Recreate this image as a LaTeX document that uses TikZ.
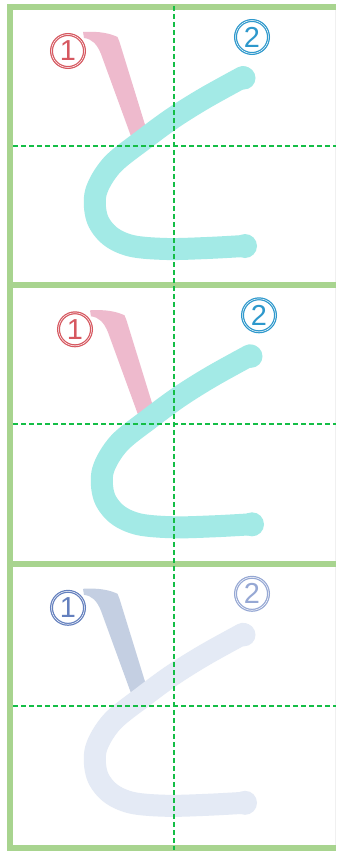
\documentclass[tikz,border=0pt]{standalone}
\usepackage{fontspec}
\setmainfont{Liberation Sans}
\definecolor{frameG}{RGB}{168,212,143}
\definecolor{gridG}{RGB}{20,190,70}
\definecolor{pinkS}{RGB}{238,186,205}
\definecolor{cyanS}{RGB}{163,234,230}
\definecolor{redN}{RGB}{214,88,96}
\definecolor{blueN}{RGB}{45,152,204}
\definecolor{grayS}{RGB}{196,207,226}
\definecolor{paleS}{RGB}{228,234,245}
\definecolor{grayNa}{RGB}{100,128,190}
\definecolor{grayNb}{RGB}{150,168,212}
\tikzset{
  framebar/.style={frameG, line width=6bp},
  gridline/.style={gridG, line width=1.5bp, dash pattern=on 5bp off 3bp},
  numlbl/.style={circle, line width=3bp, minimum size=33bp, inner sep=0pt,
     font=\fontsize{29}{29}\selectfont},
  strokeB/.style={line width=22bp, line cap=round, line join=round},
}
\newcommand{\kanapanel}[7]{%
\begin{scope}[shift={(#2,#3)}]
  \fill[#4] (83,32) .. controls (100,31) and (110,33.5) .. (117.5,37)
     -- (119.5,42) -- (146,128) -- (132,139) -- (101,54)
     .. controls (97,44) and (92,39) .. (84,38) -- cycle;
  \draw[#5, strokeB] plot[smooth, tension=0.55] coordinates {
     (243,77) (205,98) (173,118) (143,140) (112,165) (96,192) (97,218)
     (110,236) (132,246) (167,249) (207,248) (244,246)};
  \fill[#5] (244,78) circle (11.5bp);
  \fill[#5] (245,246) circle (12bp);
  \node[numlbl, draw=#6, text=#6] (#1one) at (68,51) {1};
  \draw[white, line width=0.5bp] (#1one.center) circle (16.5bp);
  \node[numlbl, draw=#7, text=#7] (#1two) at (252,37) {2};
  \draw[white, line width=0.5bp] (#1two.center) circle (16.5bp);
\end{scope}}
\begin{document}
\begin{tikzpicture}[x=1bp, y=-1bp]
  \useasboundingbox (0,0) rectangle (336,854);
  \fill[white] (0,0) rectangle (336,854);
  % glyph panels
  \kanapanel{pa}{0}{0}{pinkS}{cyanS}{redN}{blueN}
  \kanapanel{pb}{7}{278.3}{pinkS}{cyanS}{redN}{blueN}
  \kanapanel{pc}{0}{556.8}{grayS}{paleS}{grayNa}{grayNb}
  % frame
  \draw[gray!12, line width=1bp] (335.5,4) -- (335.5,851);
  \draw[framebar] (10,4) -- (10,851);
  \foreach \yy in {6.7,285,563.5,848} {
    \draw[framebar] (7,\yy) -- (336,\yy);
  }
  % guide lines
  \draw[gridline] (174,6) -- (174,850);
  \foreach \yy in {146,424,706} {
    \draw[gridline] (13,\yy) -- (336,\yy);
  }
\end{tikzpicture}
\end{document}
